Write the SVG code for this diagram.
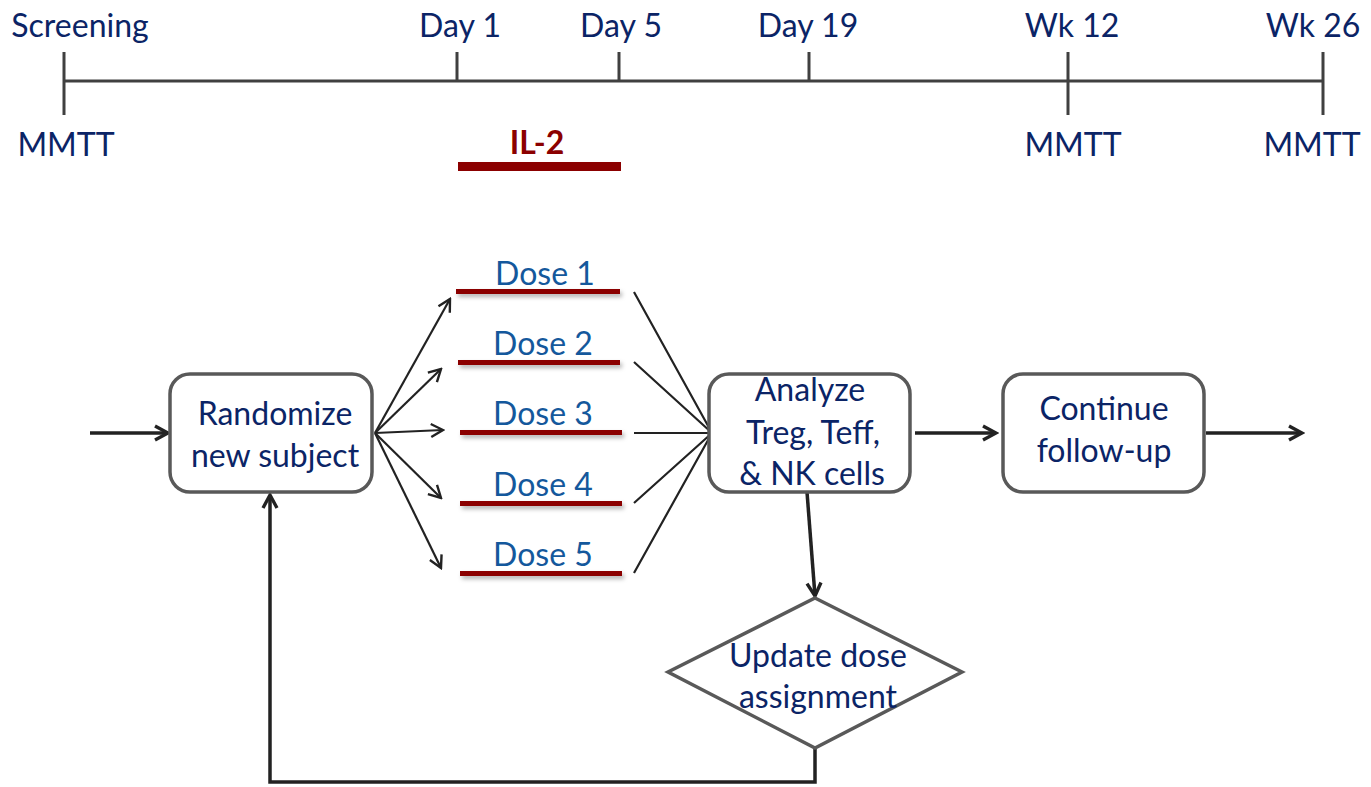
<svg xmlns="http://www.w3.org/2000/svg" width="1371" height="787" viewBox="0 0 1371 787">
<defs>
<marker id="ah" viewBox="0 0 16 16" refX="14" refY="8" markerWidth="16" markerHeight="16" markerUnits="userSpaceOnUse" orient="auto">
<path d="M2,1.5 L14,8 L2,14.5" fill="none" stroke="#222" stroke-width="2.4"/>
</marker>
<marker id="ahb" viewBox="0 0 18 18" refX="15" refY="9" markerWidth="18" markerHeight="18" markerUnits="userSpaceOnUse" orient="auto">
<path d="M2,2 L15,9 L2,16" fill="none" stroke="#222" stroke-width="3.4"/>
</marker>
<filter id="sh" x="-10%" y="-100%" width="120%" height="400%">
<feDropShadow dx="2" dy="3" stdDeviation="2" flood-color="#000" flood-opacity="0.3"/>
</filter>
</defs>
<style>
text{font-family:Lato,"Open Sans","Liberation Sans",sans-serif;font-size:32px;fill:#0b2466;text-anchor:middle}
.tl{stroke:#404040;stroke-width:3;fill:none}
.box{fill:#fff;stroke:#595959;stroke-width:3.5}
.dose{fill:#14589c}
.bar{fill:#8b0000;filter:url(#sh)}
.thin{stroke:#222;stroke-width:2.2;fill:none}
.thick{stroke:#222;stroke-width:3.5;fill:none}
</style>
<rect width="1371" height="787" fill="#fff"/>
<g id="timeline">
<path class="tl" d="M64,81 H1323 M64,52 V115 M457,52 V81 M619,52 V81 M809,52 V81 M1068,52 V115 M1323,52 V115"/>
<text x="80" y="37">Screening</text>
<text x="460" y="37">Day 1</text>
<text x="621" y="37">Day 5</text>
<text x="808" y="37">Day 19</text>
<text x="1072" y="37">Wk 12</text>
<text x="1313" y="37">Wk 26</text>
<text x="66" y="156">MMTT</text>
<text x="1073" y="156">MMTT</text>
<text x="1312" y="156">MMTT</text>
<text x="537" y="154" style="fill:#8b0000;font-weight:bold">IL-2</text>
<rect x="458" y="162" width="163" height="9" fill="#8b0000"/>
</g>
<g id="connectors">
<line class="thick" x1="90" y1="433" x2="168" y2="433" marker-end="url(#ahb)"/>
<line class="thin" x1="375" y1="433" x2="450" y2="299" marker-end="url(#ah)"/>
<line class="thin" x1="375" y1="433" x2="441" y2="369" marker-end="url(#ah)"/>
<line class="thin" x1="375" y1="433" x2="443" y2="430" marker-end="url(#ah)"/>
<line class="thin" x1="375" y1="433" x2="441" y2="498" marker-end="url(#ah)"/>
<line class="thin" x1="375" y1="433" x2="441" y2="568" marker-end="url(#ah)"/>
<path class="thin" d="M634,292 L712,433 M634,362 L712,433 M634,433 L712,433 M634,503 L712,433 M634,573 L712,433"/>
<line class="thick" x1="915" y1="433" x2="996" y2="433" marker-end="url(#ahb)"/>
<line class="thick" x1="1206" y1="433" x2="1302" y2="433" marker-end="url(#ahb)"/>
<line class="thick" x1="807" y1="492" x2="815" y2="596" marker-end="url(#ahb)"/>
<path class="thick" d="M815,748 V782 H270 V495" marker-end="url(#ahb)"/>
</g>
<g id="randomize">
<rect class="box" x="170" y="374" width="202" height="118" rx="20"/>
<text x="275" y="425">Randomize</text>
<text x="275" y="467">new subject</text>
</g>
<g id="dose1"><rect class="bar" x="456" y="289" width="164" height="5"/><text class="dose" x="545" y="285">Dose 1</text></g>
<g id="dose2"><rect class="bar" x="458" y="360" width="162" height="5"/><text class="dose" x="543" y="355">Dose 2</text></g>
<g id="dose3"><rect class="bar" x="460" y="430" width="162" height="5"/><text class="dose" x="543" y="425">Dose 3</text></g>
<g id="dose4"><rect class="bar" x="460" y="501" width="162" height="5"/><text class="dose" x="543" y="496">Dose 4</text></g>
<g id="dose5"><rect class="bar" x="460" y="571" width="162" height="5"/><text class="dose" x="543" y="566">Dose 5</text></g>
<g id="analyze">
<rect class="box" x="709" y="374" width="201" height="118" rx="20"/>
<text x="810" y="401">Analyze</text>
<text x="813" y="444">Treg, Teff,</text>
<text x="812" y="485">&amp; NK cells</text>
</g>
<g id="continue">
<rect class="box" x="1003" y="374" width="201" height="118" rx="20"/>
<text x="1104" y="420">Continue</text>
<text x="1104" y="462">follow-up</text>
</g>
<g id="update">
<polygon class="box" points="815,598 962,672 815,748 668,672"/>
<text x="818" y="667">Update dose</text>
<text x="818" y="708">assignment</text>
</g>
</svg>
